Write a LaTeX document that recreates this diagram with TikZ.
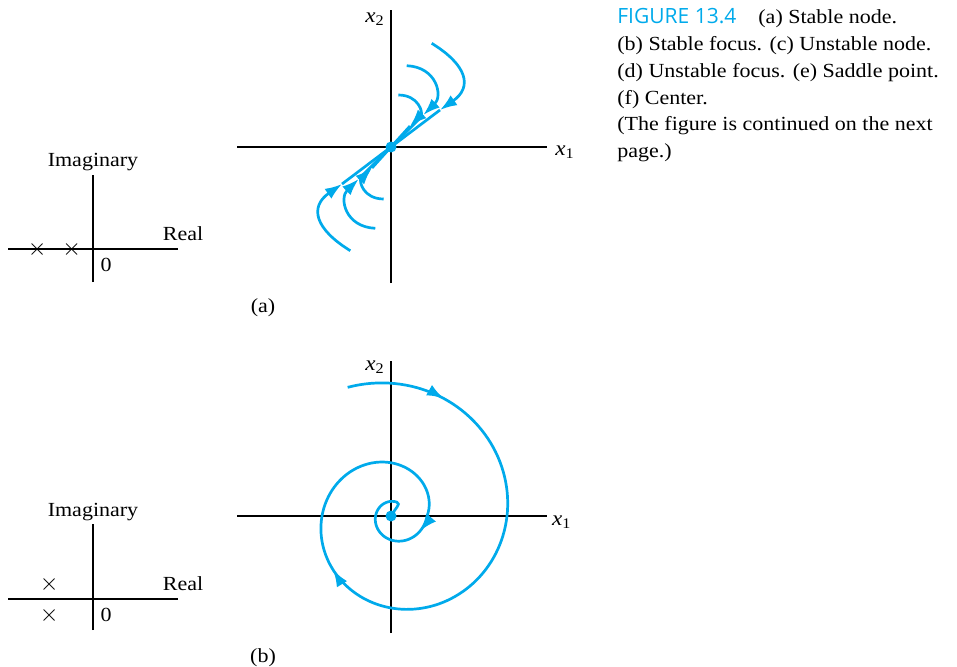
\documentclass[tikz,border=0pt]{standalone}
\usepackage{fontspec}
\setmainfont{Liberation Serif}[FakeStretch=1.1]
\newfontfamily\capfont{Open Sans}
\usetikzlibrary{arrows.meta,positioning,decorations.markings}
\definecolor{trajBlue}{RGB}{0,170,235}

\begin{document}
\begin{tikzpicture}[x=0.5pt, y=0.5pt,
    declare function={sprad(\t)=(\t>-360)*(112.5+0.2222*\t)+(\t<=-360)*(32.5*exp(0.003*(\t+360)));},
    axis/.style={line width=0.65pt, black},
    traj/.style={line width=1.35pt, trajBlue},
    tip/.style={-{Latex[length=8.5pt,width=6pt]}},
    lbl/.style={inner sep=0pt, font=\fontsize{10}{12}\selectfont},
    pole/.style={inner sep=0pt, font=\fontsize{12}{13}\selectfont}]
  \useasboundingbox (0,0) rectangle (957,666);

  % Caption, one node per line
  \node[inner sep=0pt, anchor=base west, font=\capfont\fontsize{10.5}{12}\selectfont, text=trajBlue]
    (capfig) at (617,642) {FIGURE 13.4};
  \node[lbl, anchor=base west] (capa) at (758,642) {(a) Stable node.};
  \foreach \txt [count=\i] in {{(b) Stable focus. (c) Unstable node.},
      {(d) Unstable focus. (e) Saddle point.}, {(f) Center.},
      {(The figure is continued on the next}, {page.)}} {
    \node[lbl, anchor=base west] (cap\i) at (617,642-26.7*\i) {\txt};
  }

  % (a) s-plane: two real negative poles
  \begin{scope}[shift={(93,417)}]
    \coordinate (sa) at (0,0);
    \draw[axis] (-85,0) -- (85,0);
    \draw[axis] (0,-33) -- (0,74);
    \node[lbl, anchor=base] (ima) at (0,82.3) {Imaginary};
    \node[lbl, anchor=base] (rea) at (90,8.3) {Real};
    \node[lbl, anchor=base] (zra) at (13,-22.7) {0};
    \node[pole] (pa1) at (-55.7,0) {$\times$};
    \node[pole] (pa2) at (-21.3,0) {$\times$};
  \end{scope}

  % (a) phase plane: stable node
  \begin{scope}[shift={(391,519)}]
    \coordinate (oa) at (0,0);
    \draw[axis] (-154,0) -- (156,0);
    \draw[axis] (0,-136) -- (0,137);
    \node[lbl, anchor=base west, font=\fontsize{10.5}{12}\selectfont] (xa1) at (164,-8) {\textit{x}\textsubscript{1}};
    \node[lbl, anchor=base west, font=\fontsize{10.5}{12}\selectfont] (xa2) at (-26,125) {\textit{x}\textsubscript{2}};
    \foreach \r in {0,180} {
      \begin{scope}[rotate=\r]
        \draw[traj,tip] (40.7,103.7) .. controls (76,82) and (82,60) .. (49,37) coordinate (ta1);
        \draw[traj,tip] (15.7,81.3) .. controls (46,80) and (52,51) .. (32.3,32) coordinate (ta2);
        \draw[traj,tip] (7.3,52) .. controls (28,52) and (32,34) .. (19,21) coordinate (ta3);
        \draw[traj] (ta1) -- (oa);
        \draw[traj] (ta2) -- (oa);
        \draw[traj] (ta3) -- (oa);
      \end{scope}
    }
    \fill[trajBlue] (oa) circle (5.5);
  \end{scope}
  \node[lbl, anchor=base] (laba) at (263,354) {(a)};

  % (b) s-plane: complex pair in left half plane
  \begin{scope}[shift={(93,67)}]
    \coordinate (sb) at (0,0);
    \draw[axis] (-85,0) -- (85,0);
    \draw[axis] (0,-31) -- (0,75);
    \node[lbl, anchor=base] (imb) at (0,82.3) {Imaginary};
    \node[lbl, anchor=base] (reb) at (90,8.3) {Real};
    \node[lbl, anchor=base] (zrb) at (13,-22.7) {0};
    \node[pole] (pb1) at (-43.7,15) {$\times$};
    \node[pole] (pb2) at (-43.7,-16) {$\times$};
  \end{scope}

  % (b) phase plane: stable focus
  \begin{scope}[shift={(391,150)}]
    \coordinate (ob) at (0,0);
    \draw[axis] (-154,0) -- (156,0);
    \draw[axis] (0,-117) -- (0,155);
    \node[lbl, anchor=base west, font=\fontsize{10.5}{12}\selectfont] (xb1) at (160.7,-9.7) {\textit{x}\textsubscript{1}};
    \node[lbl, anchor=base west, font=\fontsize{10.5}{12}\selectfont] (xb2) at (-26,145.3) {\textit{x}\textsubscript{2}};
    \draw[traj, postaction={decorate}, decoration={markings,
        mark=at position 0.12 with {\arrow{Latex[length=8.5pt,width=6pt]}},
        mark=at position 0.578 with {\arrow{Latex[length=8.5pt,width=6pt]}},
        mark=at position 0.871 with {\arrow{Latex[length=8.5pt,width=6pt]}}}]
      plot[domain=110:-640, samples=300, variable=\t]
        ({3.5+sprad(\t)*cos(\t)}, {sprad(\t)*sin(\t)})
      to[out=-20, in=70] (1.5,2);
    \fill[trajBlue] (ob) circle (5.5);
  \end{scope}
  \node[lbl, anchor=base] (labb) at (263,4) {(b)};
\end{tikzpicture}
\end{document}
